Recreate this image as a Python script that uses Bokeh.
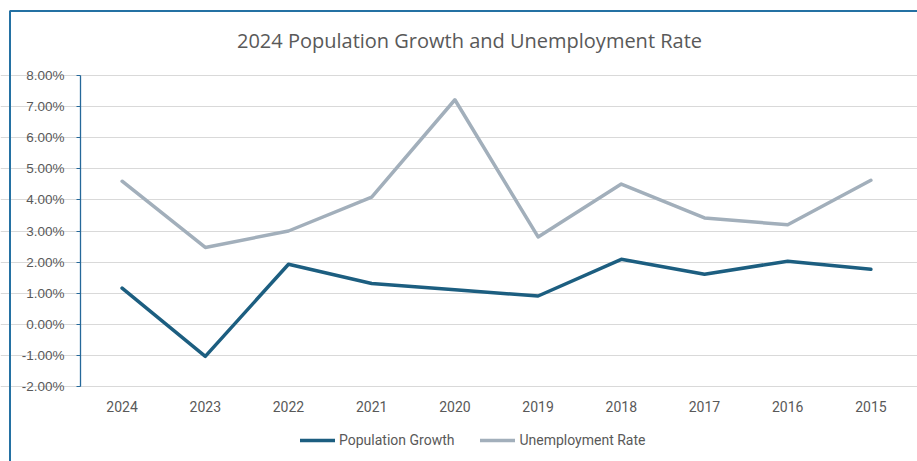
from bokeh.plotting import figure
from bokeh.models import (Range1d, FixedTicker, NumeralTickFormatter, LinearAxis, Grid,
                          Legend, LegendItem, Label, PolyAnnotation)
from bokeh.embed import file_html
from bokeh.resources import INLINE

years = ["2024", "2023", "2022", "2021", "2020", "2019", "2018", "2017", "2016", "2015"]
population_growth = [0.0116, -0.0103, 0.0193, 0.0131, 0.0111, 0.0091, 0.0209, 0.0161, 0.0203, 0.0177]
unemployment_rate = [0.0460, 0.0247, 0.0300, 0.0409, 0.0722, 0.0281, 0.0451, 0.0342, 0.0320, 0.0463]
y_ticks = [-0.02, -0.01, 0.0, 0.01, 0.02, 0.03, 0.04, 0.05, 0.06, 0.07, 0.08]

TEXT = "#595959"
POP_COLOR = "#1c5e80"
UNEMP_COLOR = "#a2afbb"
FRAME_BLUE = "#2471a3"
AXIS_BLUE = "#25689a"

W, H = 917, 461
# plot-area geometry (pixels): category bands and value axis
PLOT_LEFT, PLOT_RIGHT, PLOT_TOP, PLOT_BOTTOM = 80, 912, 75, 386
n = len(years)
band = (PLOT_RIGHT - PLOT_LEFT) / n
ymin, ymax = y_ticks[0], y_ticks[-1]
per_px = (ymax - ymin) / (PLOT_BOTTOM - PLOT_TOP)

x_pos = [i for i in range(n)]
x_start = -0.5 - PLOT_LEFT / band
x_end = x_start + W / band
y_start = ymin - (H - PLOT_BOTTOM) * per_px
y_end = ymax + PLOT_TOP * per_px

p = figure(width=W, height=H, x_range=Range1d(x_start, x_end), y_range=Range1d(y_start, y_end),
           x_axis_type=None, y_axis_type=None,
           output_backend="svg", toolbar_location=None,
           min_border=0, min_border_left=0, min_border_right=0, min_border_top=0, min_border_bottom=0)
p.outline_line_color = None
p.background_fill_color = "white"
p.border_fill_color = "white"

grid = Grid(dimension=1, ticker=FixedTicker(ticks=y_ticks), bounds=(-0.5, n - 0.5),
            grid_line_color="#d9d9d9", grid_line_width=1)
p.add_layout(grid)

r1 = p.line(x_pos, population_growth, line_color=POP_COLOR, line_width=3.5,
            line_join="round", line_cap="round")
r2 = p.line(x_pos, unemployment_rate, line_color=UNEMP_COLOR, line_width=3.5,
            line_join="round", line_cap="round")

# y axis
yaxis = LinearAxis(fixed_location=-0.5, bounds=(ymin, ymax),
                   ticker=FixedTicker(ticks=y_ticks),
                   formatter=NumeralTickFormatter(format="0.00%"),
                   axis_line_color=AXIS_BLUE, axis_line_width=1.3,
                   major_tick_line_color=AXIS_BLUE, major_tick_out=4, major_tick_in=0,
                   minor_tick_line_color=None,
                   major_label_text_font="Liberation Sans", major_label_text_font_size="13.5px",
                   major_label_text_color=TEXT, major_label_standoff=12)
p.add_layout(yaxis, "left")

# x (category) axis
xaxis = LinearAxis(fixed_location=ymin, bounds=(-0.5, n - 0.5),
                   ticker=FixedTicker(ticks=x_pos),
                   major_label_overrides={i: y for i, y in enumerate(years)},
                   axis_line_color="#d9d9d9",
                   major_tick_line_color=None, major_tick_out=0, major_tick_in=0,
                   minor_tick_line_color=None,
                   major_label_text_font="Roboto", major_label_text_font_size="14px",
                   major_label_text_color=TEXT, major_label_standoff=14)
p.add_layout(xaxis, "below")

# title
title = Label(x=469, y=H - 40, x_units="screen", y_units="screen",
              text="2024 Population Growth and Unemployment Rate",
              text_font="Open Sans", text_font_size="20px", text_color=TEXT,
              text_align="center", text_baseline="middle")
p.add_layout(title)

# outer chart border: left and top edges only (path doubles back along the top edge)
border = PolyAnnotation(xs=[9.5, 9.5, W, 9.5], ys=[0, H - 10.5, H - 10.5, H - 10.5],
                        xs_units="screen", ys_units="screen",
                        fill_alpha=0, line_color=FRAME_BLUE, line_alpha=1.0, line_width=2,
                        line_join="bevel", line_cap="butt")
p.add_layout(border)

legend = Legend(items=[LegendItem(label="Population Growth", renderers=[r1]),
                       LegendItem(label="Unemployment Rate", renderers=[r2])],
                orientation="horizontal", location=(300, H - 450),
                glyph_width=35, glyph_height=20, label_standoff=4, spacing=26,
                padding=0, margin=0, border_line_alpha=0, background_fill_alpha=0,
                label_text_font="Roboto", label_text_font_size="14px",
                label_text_color=TEXT)
p.add_layout(legend)

open("out.html", "w").write(file_html(p, INLINE))
